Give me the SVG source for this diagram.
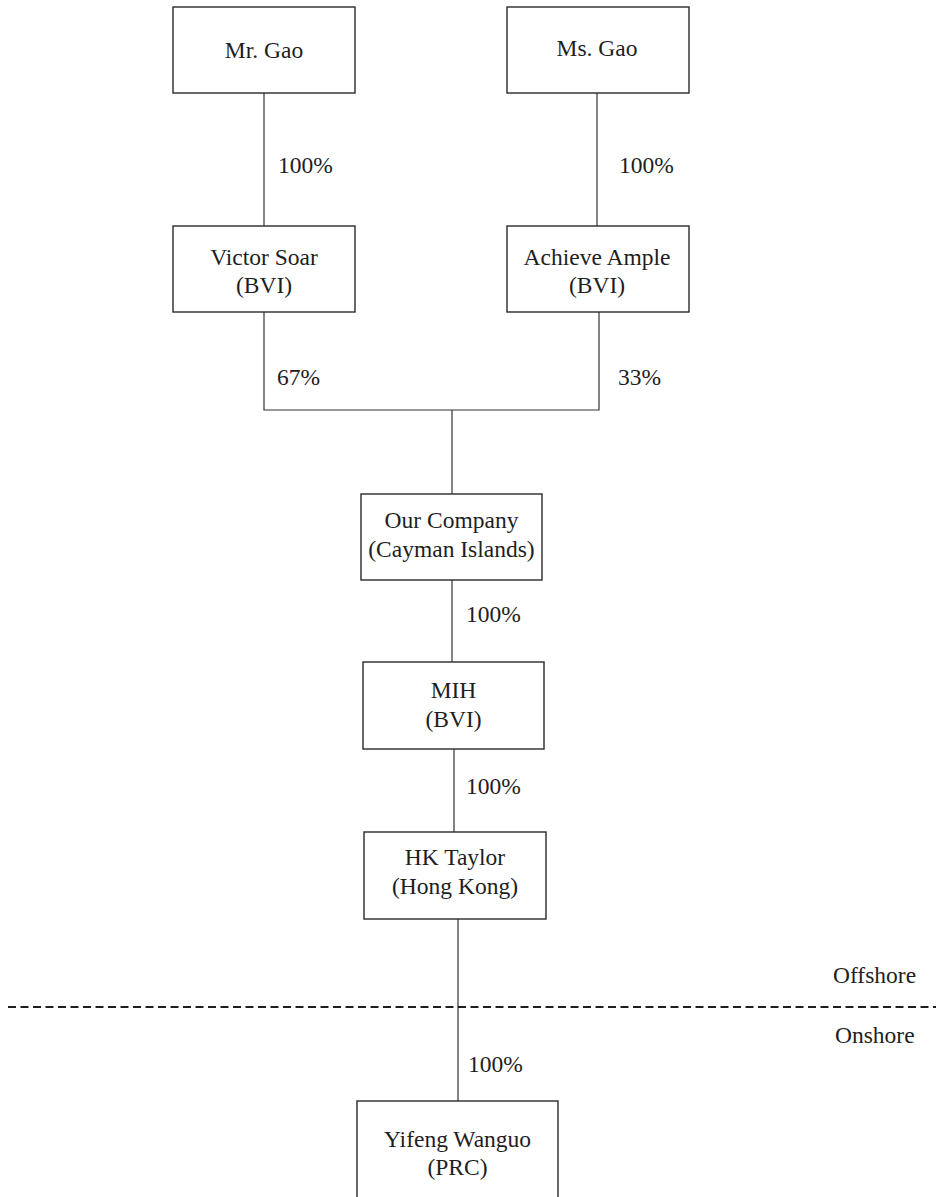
<svg xmlns="http://www.w3.org/2000/svg" width="936" height="1197" viewBox="0 0 936 1197" font-family="'Liberation Serif', 'Times New Roman', serif" font-size="23.5">
<style>
.box{fill:#fff;stroke:#2a2a2a;stroke-width:1.4}
.ln{stroke:#333;stroke-width:1.2;fill:none}
text{font-family:'Liberation Serif','Times New Roman',serif;font-size:23.5px;fill:#1e1e1e}
.c{text-anchor:middle}
</style>
<rect width="936" height="1197" fill="#fff"/>
<g id="connectors">
<line class="ln" x1="264" y1="93" x2="264" y2="226"/>
<line class="ln" x1="597" y1="93" x2="597" y2="226"/>
<polyline class="ln" points="264,312 264,410 599,410 599,312"/>
<line class="ln" x1="452" y1="410" x2="452" y2="494"/>
<line class="ln" x1="452" y1="580" x2="452" y2="662"/>
<line class="ln" x1="454" y1="749" x2="454" y2="832"/>
<line class="ln" x1="458" y1="919" x2="458" y2="1101"/>
<text x="278" y="173">100%</text>
<text x="619" y="173">100%</text>
<text x="277" y="385">67%</text>
<text x="618" y="385">33%</text>
<text x="466" y="622">100%</text>
<text x="466" y="794">100%</text>
<text x="468" y="1072">100%</text>
</g>
<g id="boundary">
<line x1="8" y1="1007" x2="936" y2="1007" stroke="#1e1e1e" stroke-width="2.2" stroke-dasharray="8 4.5"/>
<text x="833" y="983">Offshore</text>
<text x="835" y="1043">Onshore</text>
</g>
<g id="mr-gao">
<rect class="box" x="173" y="7" width="182" height="86"/>
<text class="c" x="264" y="58">Mr. Gao</text>
</g>
<g id="ms-gao">
<rect class="box" x="507" y="7" width="182" height="86"/>
<text class="c" x="597" y="56">Ms. Gao</text>
</g>
<g id="victor-soar">
<rect class="box" x="173" y="226" width="182" height="86"/>
<text class="c" x="264" y="265">Victor Soar</text>
<text class="c" x="264" y="293">(BVI)</text>
</g>
<g id="achieve-ample">
<rect class="box" x="507" y="226" width="182" height="86"/>
<text class="c" x="597" y="265">Achieve Ample</text>
<text class="c" x="597" y="293">(BVI)</text>
</g>
<g id="our-company">
<rect class="box" x="361" y="494" width="181" height="86"/>
<text class="c" x="451.5" y="528">Our Company</text>
<text class="c" x="451.5" y="557">(Cayman Islands)</text>
</g>
<g id="mih">
<rect class="box" x="363" y="662" width="181" height="87"/>
<text class="c" x="453.5" y="698">MIH</text>
<text class="c" x="453.5" y="727">(BVI)</text>
</g>
<g id="hk-taylor">
<rect class="box" x="364" y="832" width="182" height="87"/>
<text class="c" x="455" y="865">HK Taylor</text>
<text class="c" x="455" y="894">(Hong Kong)</text>
</g>
<g id="yifeng-wanguo">
<rect class="box" x="357" y="1101" width="201" height="110"/>
<text class="c" x="457.5" y="1147">Yifeng Wanguo</text>
<text class="c" x="457.5" y="1175">(PRC)</text>
</g>
</svg>
